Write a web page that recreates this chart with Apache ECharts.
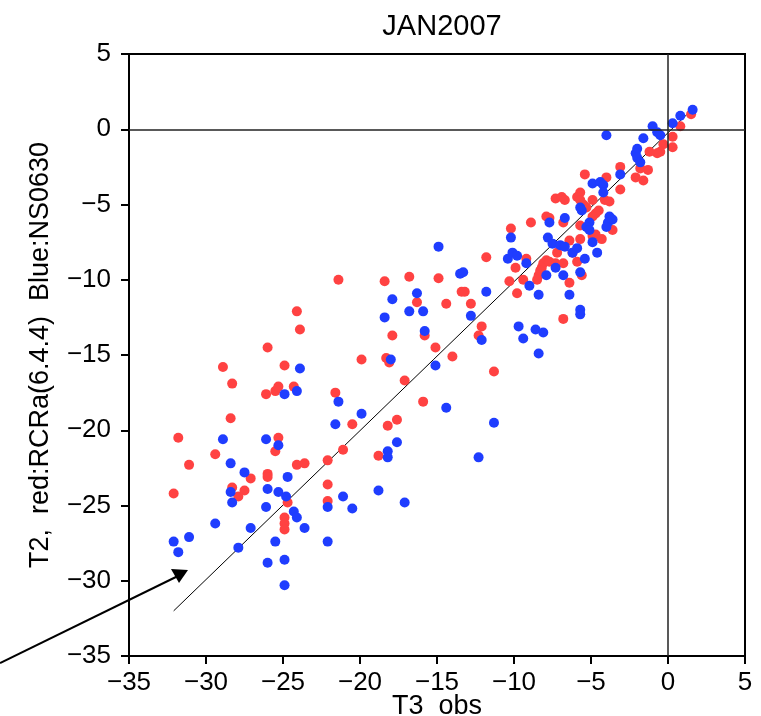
<!DOCTYPE html>
<html>
<head>
<meta charset="utf-8">
<title>JAN2007</title>
<script src="https://cdn.jsdelivr.net/npm/echarts/dist/echarts.min.js"></script>
<style>
  html, body { margin: 0; padding: 0; background: #fff; }
  #chart { width: 761px; height: 716px; }
</style>
</head>
<body>
<div id="chart"></div>
<script>
// red: RCRa(6.4.4)  [T3 obs, T2]
const redPoints = [
    [-21.4,-10.0],[-24.1,-12.1],[-23.9,-13.3],[-26.0,-14.5],[-28.9,-15.8],[-24.9,-15.7],[-28.3,-16.9],
    [-26.1,-17.6],[-25.5,-17.4],[-25.3,-17.1],[-24.3,-17.1],[-21.6,-17.5],[-28.4,-19.2],[-31.8,-20.5],
    [-25.3,-20.5],[-25.5,-21.4],[-29.4,-21.6],[-31.1,-22.3],[-24.1,-22.3],[-23.6,-22.2],[-22.1,-22.0],
    [-26.0,-22.9],[-26.0,-23.1],[-27.1,-23.2],[-22.1,-23.6],[-32.1,-24.2],[-28.3,-23.8],[-27.5,-24.0],
    [-27.9,-24.4],[-24.7,-24.8],[-22.1,-24.7],[-24.9,-25.8],[-24.9,-26.2],[-24.9,-26.6],
    [-11.8,-8.5],[-18.4,-10.1],[-16.8,-9.8],[-14.9,-9.9],[-9.9,-9.2],[-16.3,-11.5],[-14.4,-11.6],
    [-13.4,-10.8],[-13.2,-10.8],[-12.8,-11.6],[-10.3,-10.1],[-9.8,-10.9],[-17.9,-13.7],[-15.8,-13.7],
    [-12.1,-13.1],[-12.3,-13.7],[-15.1,-14.5],[-19.9,-15.3],[-18.3,-15.2],[-18.1,-15.5],[-14.0,-15.1],
    [-11.3,-16.1],[-17.1,-16.7],[-15.9,-18.1],[-20.5,-19.6],[-18.2,-19.7],[-17.6,-19.3],[-18.8,-21.7],
    [-21.1,-21.3],
    [1.5,1.0],[0.8,0.2],[0.3,-0.5],[0.3,-1.2],[-0.3,-1.0],[-0.5,-1.5],[-0.7,-1.6],[-1.2,-1.5],
    [-3.1,-2.5],[-1.8,-2.6],[-2.1,-3.2],[-1.6,-3.4],[-1.3,-2.7],[-5.4,-3.0],[-4.0,-3.2],[-5.7,-4.2],
    [-5.9,-4.5],[-5.7,-4.7],[-3.1,-4.0],[-7.3,-4.6],[-6.9,-4.5],[-6.7,-4.7],[-4.9,-4.7],[-4.1,-4.7],
    [-3.8,-4.8],[-5.5,-5.0],[-5.3,-5.2],[-4.5,-5.4],[-4.7,-5.6],[-4.9,-5.8],[-7.9,-5.8],[-7.7,-5.9],
    [-6.8,-6.2],[-8.9,-6.2],[-10.2,-6.6],[-3.6,-6.7],[-5.7,-6.4],[-6.4,-7.4],[-5.7,-7.3],[-4.9,-7.1],
    [-4.7,-7.0],[-4.3,-7.3],[-7.2,-8.2],[-6.2,-8.2],[-9.2,-8.6],[-7.9,-8.7],[-8.1,-8.9],[-8.2,-9.2],
    [-8.3,-9.4],[-8.4,-9.7],[-8.5,-10.0],[-7.7,-8.8],[-7.3,-8.9],[-6.8,-8.9],[-5.9,-8.8],[-5.6,-9.7],
    [-9.4,-10.0],[-6.4,-10.2],[-6.8,-12.6]
];

// blue: NS0630  [T3 obs, T2]
const bluePoints = [
    [-23.9,-15.9],[-24.9,-17.6],[-24.1,-17.4],[-21.4,-18.1],[-21.6,-19.6],[-28.9,-20.6],[-26.1,-20.6],
    [-25.3,-21.0],[-28.4,-22.2],[-27.5,-22.8],[-24.7,-23.1],[-28.4,-24.1],[-26.0,-23.9],[-25.3,-24.1],
    [-24.8,-24.4],[-28.3,-24.8],[-26.1,-25.1],[-22.1,-25.1],[-24.3,-25.4],[-24.1,-25.8],[-29.4,-26.2],
    [-27.1,-26.5],[-23.6,-26.5],[-32.1,-27.4],[-31.1,-27.1],[-25.5,-27.4],[-22.1,-27.4],[-27.9,-27.8],
    [-31.8,-28.1],[-26.0,-28.8],[-24.9,-28.6],[-24.9,-30.3],
    [-14.9,-7.8],[-13.5,-9.6],[-13.3,-9.5],[-10.2,-7.2],[-10.4,-8.6],[-10.1,-8.2],[-9.8,-8.4],
    [-11.8,-10.8],[-16.3,-10.9],[-17.9,-11.3],[-16.8,-12.1],[-15.9,-12.1],[-18.4,-12.5],[-12.8,-12.4],
    [-9.7,-13.1],[-15.8,-13.4],[-12.1,-14.0],[-18.0,-15.3],[-15.1,-15.7],[-14.4,-18.5],[-19.9,-18.9],
    [-11.3,-19.5],[-17.6,-20.8],[-18.2,-21.4],[-18.2,-21.8],[-12.3,-21.8],[-21.1,-24.4],[-20.5,-25.2],
    [-18.8,-24.0],[-17.1,-24.8],
    [1.6,1.3],[0.8,0.9],[0.3,0.4],[-1.0,0.2],[-0.7,-0.2],[-0.5,-0.4],[-4.0,-0.4],[-1.6,-0.6],
    [-2.0,-1.3],[-2.1,-1.6],[-2.0,-1.9],[-1.8,-2.2],[-3.1,-3.0],[-4.9,-3.6],[-4.4,-3.5],[-4.2,-3.7],
    [-4.2,-4.2],[-5.7,-5.2],[-5.6,-5.4],[-6.7,-5.9],[-7.7,-6.2],[-3.8,-5.8],[-3.6,-6.0],[-3.9,-6.2],
    [-4.0,-6.5],[-5.1,-6.2],[-5.3,-6.5],[-5.1,-6.7],[-7.8,-7.2],[-7.5,-7.6],[-7.0,-7.7],[-6.7,-7.8],
    [-4.9,-7.5],[-4.6,-8.2],[-6.2,-8.2],[-5.9,-7.9],[-9.2,-8.9],[-5.4,-8.6],[-7.3,-9.2],[-7.9,-9.7],
    [-6.8,-9.7],[-5.7,-9.5],[-9.0,-10.4],[-8.4,-11.0],[-6.4,-11.0],[-5.7,-12.0],[-5.7,-12.3],
    [-8.6,-13.3],[-8.1,-13.5],[-9.4,-13.9],[-8.4,-14.9]
];

// fitted line drawn across the data
const fitLine = [[-32.1, -32.0], [1.6, 1.35]];

const axisMin = -35;
const axisMax = 5;
const tickStep = 5;

const FONT = "'Liberation Sans', Arial, sans-serif";
const fmt = v => String(v).replace('-', '\u2212');

const chart = echarts.init(document.getElementById('chart'));

const axisCommon = {
    type: 'value',
    min: axisMin,
    max: axisMax,
    interval: tickStep,
    nameLocation: 'middle',
    nameMoveOverlap: false,
    nameTextStyle: { color: '#000', fontSize: 27, fontFamily: FONT },
    axisLine: { show: true, onZero: false, lineStyle: { color: '#000', width: 2 } },
    axisTick: { show: true, inside: false, length: 8, lineStyle: { color: '#000', width: 2 } },
    axisLabel: { color: '#000', fontSize: 26, fontFamily: FONT, formatter: fmt },
    splitLine: { show: false }
};

chart.setOption({
    animation: false,
    backgroundColor: '#fff',
    title: {
        text: 'JAN2007',
        left: 437,
        top: 7,
        textAlign: 'center',
        textStyle: { color: '#000', fontSize: 29, fontWeight: 'normal', fontFamily: FONT }
    },
    grid: {
        left: 129, right: 16, top: 54, bottom: 60,
        outerBoundsMode: 'none',
        containLabel: false,
        show: true, borderColor: '#000', borderWidth: 2, backgroundColor: 'transparent'
    },
    xAxis: Object.assign({}, axisCommon, {
        name: 'T3  obs',
        nameGap: 37,
        axisLabel: Object.assign({}, axisCommon.axisLabel, { margin: 14 })
    }),
    yAxis: Object.assign({}, axisCommon, {
        name: 'T2,  red:RCRa(6.4.4)  Blue:NS0630',
        nameGap: 75,
        axisLabel: Object.assign({}, axisCommon.axisLabel, { margin: 18 })
    }),
    series: [
        {
            name: 'fit',
            type: 'line',
            data: fitLine,
            symbol: 'none',
            lineStyle: { color: '#000', width: 1 },
            silent: true,
            z: 1,
            markLine: {
                silent: true,
                symbol: ['none', 'none'],
                label: { show: false },
                lineStyle: { color: '#222', width: 1.5, type: 'solid' },
                data: [{ xAxis: 0 }, { yAxis: 0 }]
            }
        },
        {
            name: 'NS0630',
            type: 'scatter',
            data: bluePoints,
            symbol: 'circle',
            symbolSize: 10,
            itemStyle: { color: '#1f3dff', opacity: 1 },
            z: 3
        },
        {
            name: 'RCRa(6.4.4)',
            type: 'scatter',
            data: redPoints,
            symbol: 'circle',
            symbolSize: 10,
            itemStyle: { color: '#ff4242', opacity: 1 },
            z: 2
        }
    ],
    graphic: [
        {
            type: 'line',
            shape: { x1: 0, y1: 663, x2: 180, y2: 575 },
            style: { stroke: '#000', lineWidth: 2 }
        },
        {
            type: 'polygon',
            shape: { points: [[171, 569], [188, 570], [179, 583]] },
            style: { fill: '#000' }
        }
    ]
});
</script>
</body>
</html>
